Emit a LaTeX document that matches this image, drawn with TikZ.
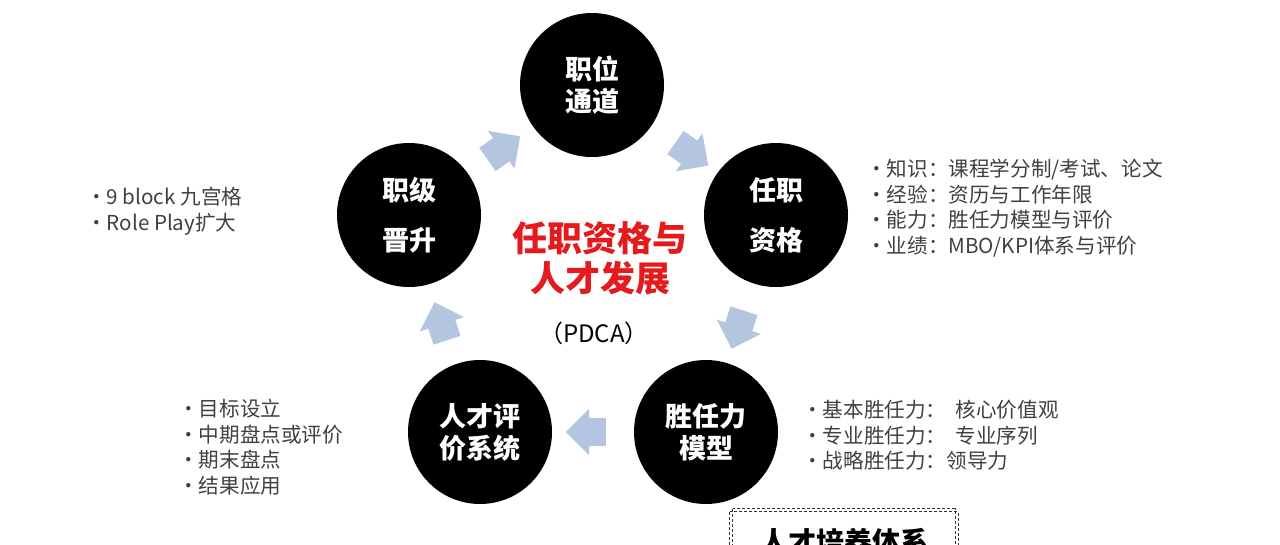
\documentclass[tikz,border=0pt]{standalone}
\usepackage{fontspec}
\setmainfont{Noto Sans CJK SC}
\usetikzlibrary{shapes.arrows}
\definecolor{arrowblue}{RGB}{180,197,223}
\definecolor{notegray}{RGB}{64,64,64}
\definecolor{titlered}{RGB}{228,26,28}
\tikzset{
stage/.style={
    circle, fill=black, text=white,
    minimum size=144pt, inner sep=0pt,
    align=center,
    font=\fontsize{27}{32}\selectfont\bfseries
},
cyclearrow/.style={
    single arrow, fill=arrowblue, draw=none,
    minimum height=40pt, minimum width=46pt,
    single arrow head extend=9pt,
    inner xsep=0pt, inner ysep=14pt,
    rotate=#1
},
notes/.style={
    anchor=north west, inner sep=0pt, align=left,
    text=notegray, font=\fontsize{20.6}{25.5}\selectfont
},
trainbox/.style={
    minimum width=228pt, minimum height=60pt,
    font=\fontsize{28}{32}\selectfont\bfseries
},
boxline/.style={
    draw=black!80, line width=0.8pt, dash pattern=on 3pt off 2pt
},
}
\begin{document}
\begin{tikzpicture}[x=1pt,y=-1pt]
\useasboundingbox (0,0) rectangle (1280,544);
\clip (0,0) rectangle (1280,544);
% cycle
\node[stage] (post) at (592,85) {职位\\通道};
\node[stage] (qual) at (776,215) {任职\\[18pt]资格};
\node[stage] (model) at (706,432) {胜任力\\模型};
\node[stage] (eval) at (480,432) {人才评\\价系统};
\node[stage] (promo) at (409,215) {职级\\[18pt]晋升};
% arrows between
\node[cyclearrow=35] (a1) at (498,152) {};
\node[cyclearrow=-35] (a2) at (686,150) {};
\node[cyclearrow=-108] (a3) at (740,323) {};
\node[cyclearrow=180] (a4) at (593,432) {};
\node[cyclearrow=108] (a5) at (443,328) {};
% centre
\node[text=titlered, align=center, font=\fontsize{35}{40}\selectfont\bfseries] (title) at (600,258) {任职资格与\\人才发展};
\node[font=\fontsize{24}{28}\selectfont] (pdca) at (594,333) {（PDCA）};
% notes
\node[notes] (qualnote) at (866,159) {•知识：课程学分制/考试、论文\\•经验：资历与工作年限\\•能力：胜任力模型与评价\\•业绩：MBO/KPI体系与评价};
\node[notes] (promonote) at (86,187) {•9 block 九宫格\\•Role Play扩大};
\node[notes] (evalnote) at (178,399) {•目标设立\\•中期盘点或评价\\•期末盘点\\•结果应用};
\node[notes] (modelnote) at (802,400) {•基本胜任力：\ \ 核心价值观\\•专业胜任力：\ \ 专业序列\\•战略胜任力：领导力};
% bottom box
\node[trainbox] (train) at (844,542) {人才培养体系};
\draw[boxline] (train.north west) rectangle (train.south east);
\draw[boxline] ([shift={(3pt,3pt)}]train.north west) rectangle ([shift={(-3pt,-3pt)}]train.south east);
\end{tikzpicture}
\end{document}
